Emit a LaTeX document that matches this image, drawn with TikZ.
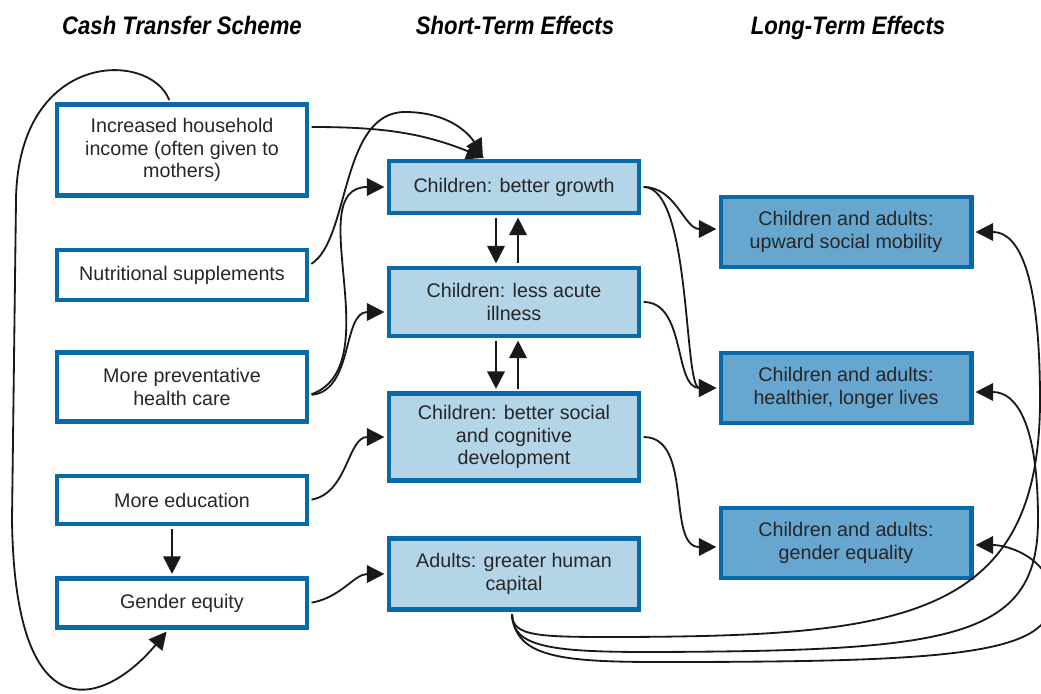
\documentclass[tikz,border=0pt]{standalone}
\usepackage{fontspec}
\setmainfont{Liberation Sans}
\newfontfamily\headfont[FakeStretch=0.875]{Liberation Sans}
\usetikzlibrary{arrows.meta}
\definecolor{boxblue}{HTML}{0A6AA8}
\definecolor{shortfill}{HTML}{B4D5E8}
\definecolor{longfill}{HTML}{67A6CF}

\begin{document}
\begin{tikzpicture}[x=0.025cm, y=-0.025cm,
    box/.style={rectangle, draw=boxblue, line width=3.5pt, minimum width=6.25cm,
        align=center, inner sep=2pt, text=black!85, font=\fontsize{14}{16}\selectfont},
    short/.style={box, fill=shortfill},
    long/.style={box, fill=longfill},
    head/.style={anchor=base, font=\headfont\bfseries\itshape\fontsize{18}{20}\selectfont},
    arr/.style={-{Triangle[length=12.5pt, width=12.5pt]}, line width=1.3pt, black!90,
        shorten <=1.5pt, shorten >=1.5pt}
]
    \useasboundingbox (0,0) rectangle (1041,693);

    % Titel
    \node[head] (hcash) at (182,34) {Cash Transfer Scheme};
    \node[head] (hshort) at (515,34) {Short-Term Effects};
    \node[head] (hlong) at (848,34) {Long-Term Effects};

    % Cash transfer
    \node[box, minimum height=2.275cm] (inc) at (182,150) {Increased household\\income (often given to\\mothers)};
    \node[box, minimum height=1.25cm] (nut) at (182,275) {Nutritional supplements};
    \node[box, minimum height=1.725cm] (prev) at (182,387) {More preventative\\health care};
    \node[box, minimum height=1.2cm] (edu) at (182,500) {More education};
    \node[box, minimum height=1.225cm] (gen) at (182,603) {Gender equity};

    % Short-term
    \node[short, minimum height=1.3cm] (grow) at (514,187) {Children: better growth};
    \node[short, minimum height=1.7cm] (ill) at (514,302) {Children: less acute\\illness};
    \node[short, minimum height=2.175cm] (dev) at (514,437) {Children: better social\\and cognitive\\development};
    \node[short, minimum height=1.775cm] (adult) at (514,574) {Adults: greater human\\capital};

    % Long-term
    \node[long, minimum height=1.75cm] (mob) at (846,232) {Children and adults:\\upward social mobility};
    \node[long, minimum height=1.75cm] (health) at (846,388) {Children and adults:\\healthier, longer lives};
    \node[long, minimum height=1.75cm] (eq) at (846,543) {Children and adults:\\gender equality};

    % links -> short-term
    \draw[arr] ([yshift=0.575cm]inc.east) to[out=0, in=158] ([xshift=-0.7cm]grow.north);
    \draw[arr] ([yshift=0.25cm]nut.east) .. controls (350,240) and (340,112) .. (405,112)
        .. controls (450,112) and (470,135) .. ([xshift=-0.75cm]grow.north);
    \draw[arr] ([yshift=-0.2cm]prev.east) to[out=20, in=180] (grow.west);
    \draw[arr] ([yshift=-0.2cm]prev.east) to[out=5, in=180] ([yshift=-0.25cm]ill.west);
    \draw[arr] (edu.east) to[out=10, in=180] (dev.west);
    \draw[arr] (gen.east) to[out=10, in=180] (adult.west);
    \draw[arr] ([xshift=-0.25cm]edu.south) -- ([xshift=-0.25cm]gen.north);

    % loop
    \draw[arr] ([xshift=-0.3cm]inc.north) .. controls (150,50) and (18,50) .. (16,200) -- (12,520)
        .. controls (15,745) and (110,700) .. ([xshift=-0.35cm]gen.south);

    % between short-term
    \draw[arr] ([xshift=-0.45cm]grow.south) -- ([xshift=-0.45cm]ill.north);
    \draw[arr] ([xshift=0.1cm]ill.north) -- ([xshift=0.1cm]grow.south);
    \draw[arr] ([xshift=-0.45cm]ill.south) -- ([xshift=-0.45cm]dev.north);
    \draw[arr] ([xshift=0.1cm]dev.north) -- ([xshift=0.1cm]ill.south);

    % short-term -> long-term
    \draw[arr] (grow.east) to[out=0, in=180] ([yshift=0.075cm]mob.west);
    \draw[arr] (grow.east) .. controls +(50,0) and +(-35,0) .. (health.west);
    \draw[arr] (ill.east) .. controls +(45,0) and +(-45,0) .. (health.west);
    \draw[arr] (dev.east) to[out=0, in=180] ([yshift=-0.1cm]eq.west);

    % adults -> long-term
    \draw[arr] ([xshift=-0.05cm]adult.south) .. controls +(0,25) and (540,637) .. (620,637)
        .. controls (900,636) and (1040,620) .. (1040,400)
        .. controls (1040,250) and (1010,232) .. (mob.east);
    \draw[arr] ([xshift=-0.05cm]adult.south) .. controls +(0,35) and (550,652) .. (650,652)
        .. controls (950,651) and (1038,640) .. (1038,520)
        .. controls (1038,420) and (1015,392) .. ([yshift=-0.1cm]health.east);
    \draw[arr] ([xshift=-0.05cm]adult.south) .. controls +(3,45) and (560,662) .. (660,662)
        .. controls (950,662) and (1050,655) .. (1052,600)
        .. controls (1053,560) and (1010,545) .. ([yshift=-0.05cm]eq.east);
\end{tikzpicture}
\end{document}
